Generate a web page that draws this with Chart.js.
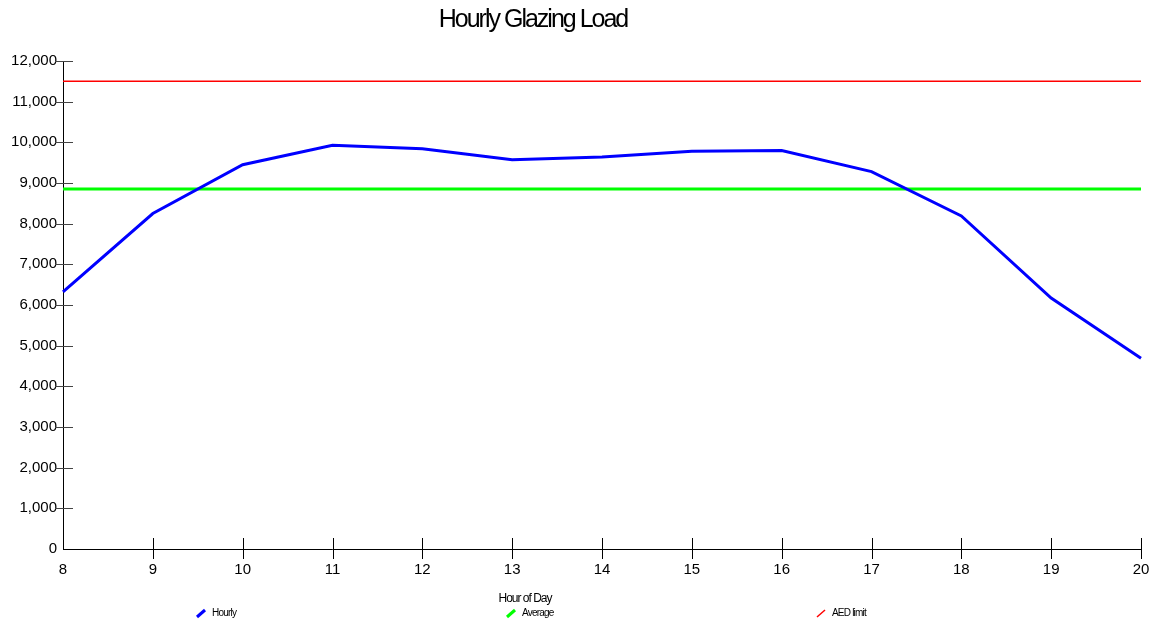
<!DOCTYPE html>
<html>
<head>
<meta charset="utf-8">
<script src="https://cdn.jsdelivr.net/npm/chart.js@4.4.1/dist/chart.umd.min.js"></script>
<style>
  html, body { margin: 0; padding: 0; background: #ffffff; }
  #wrap { width: 1152px; height: 622px; }
</style>
</head>
<body>
<div id="wrap"><canvas id="glazingChart" width="1152" height="622"></canvas></div>
<script>
// data
const hours = [8, 9, 10, 11, 12, 13, 14, 15, 16, 17, 18, 19, 20]
const hourlyLoad = [6320, 8250, 9450, 9930, 9840, 9570, 9640, 9780, 9800, 9280, 8190, 6170, 4690]
const averageLoad = 8850
const aedLimit = 11500
const chartTitle = 'Hourly Glazing Load'
const xAxisTitle = 'Hour of Day'
const seriesNames = ['Hourly', 'Average', 'AED limit']

const FONT = "'Liberation Sans', Arial, sans-serif"

// title, axis title, legend and crossing tick marks
const decorPlugin = {
  id: 'decor',
  afterDraw(chart) {
    const { ctx, chartArea, scales } = chart
    ctx.save()

    // y tick marks crossing the axis
    ctx.strokeStyle = '#444444'
    ctx.lineWidth = 1
    scales.y.ticks.forEach(t => {
      if (t.value === 0) return
      const y = Math.round(scales.y.getPixelForValue(t.value)) + 0.5
      ctx.beginPath()
      ctx.moveTo(chartArea.left - 8, y)
      ctx.lineTo(chartArea.left + 10, y)
      ctx.stroke()
    })

    // x tick marks crossing the axis
    ctx.strokeStyle = '#000000'
    hours.forEach((h, i) => {
      if (i === 0) return
      const x = Math.round(scales.x.getPixelForValue(i)) + 0.5
      ctx.beginPath()
      ctx.moveTo(x, chartArea.bottom - 11)
      ctx.lineTo(x, chartArea.bottom + 10)
      ctx.stroke()
    })

    ctx.fillStyle = '#000000'
    ctx.textAlign = 'center'
    ctx.textBaseline = 'middle'

    // title
    ctx.font = `25px ${FONT}`
    ctx.letterSpacing = '-2px'
    ctx.fillText(chartTitle, 533, 20)

    // x axis title
    ctx.font = `12px ${FONT}`
    ctx.letterSpacing = '-1px'
    ctx.fillText(xAxisTitle, 525, 599)

    // legend
    ctx.font = `10px ${FONT}`
    ctx.letterSpacing = '-0.8px'
    ctx.textAlign = 'left'
    chart.data.datasets.forEach((ds, i) => {
      const x = 197 + i * 310
      ctx.strokeStyle = ds.borderColor
      ctx.lineWidth = ds.borderWidth
      ctx.beginPath()
      ctx.moveTo(x, 617)
      ctx.lineTo(x + 8, 610)
      ctx.stroke()
      ctx.fillText(ds.label, x + 15, 613)
    })

    ctx.restore()
  }
}

const ctx = document.getElementById('glazingChart').getContext('2d')

const glazingChart = new Chart(ctx, {
  type: 'line',
  data: {
    labels: hours,
    datasets: [
      {
        label: seriesNames[0],
        data: hourlyLoad,
        borderColor: '#0000ff',
        borderWidth: 3,
        pointRadius: 0,
        tension: 0
      },
      {
        label: seriesNames[1],
        data: hours.map(() => averageLoad),
        borderColor: '#00ff00',
        borderWidth: 3,
        pointRadius: 0,
        tension: 0
      },
      {
        label: seriesNames[2],
        data: hours.map(() => aedLimit),
        borderColor: '#ff0000',
        borderWidth: 1.5,
        pointRadius: 0,
        tension: 0
      }
    ]
  },
  options: {
    responsive: false,
    animation: false,
    devicePixelRatio: 1,
    layout: {
      padding: { top: 61, right: 11, left: 0, bottom: 0 }
    },
    plugins: {
      title: { display: false },
      legend: { display: false },
      tooltip: { enabled: false }
    },
    scales: {
      x: {
        type: 'category',
        offset: false,
        grid: { display: false, drawTicks: false },
        border: { display: true, color: '#000000', width: 1 },
        ticks: {
          autoSkip: false,
          maxRotation: 0,
          padding: 12,
          color: '#000000',
          font: { family: FONT, size: 15 }
        },
        afterFit(scale) {
          scale.height = 73
          scale.paddingLeft = 0
          scale.paddingRight = 0
        }
      },
      y: {
        min: 0,
        max: 12000,
        grid: { display: false, drawTicks: false },
        border: { display: true, color: '#000000', width: 1 },
        ticks: {
          stepSize: 1000,
          padding: 6,
          color: '#000000',
          font: { family: FONT, size: 15 },
          callback: v => v.toLocaleString('en-US')
        },
        afterFit(scale) {
          scale.width = 63
          scale.paddingTop = 0
          scale.paddingBottom = 0
        }
      }
    }
  },
  plugins: [decorPlugin]
})
</script>
</body>
</html>
